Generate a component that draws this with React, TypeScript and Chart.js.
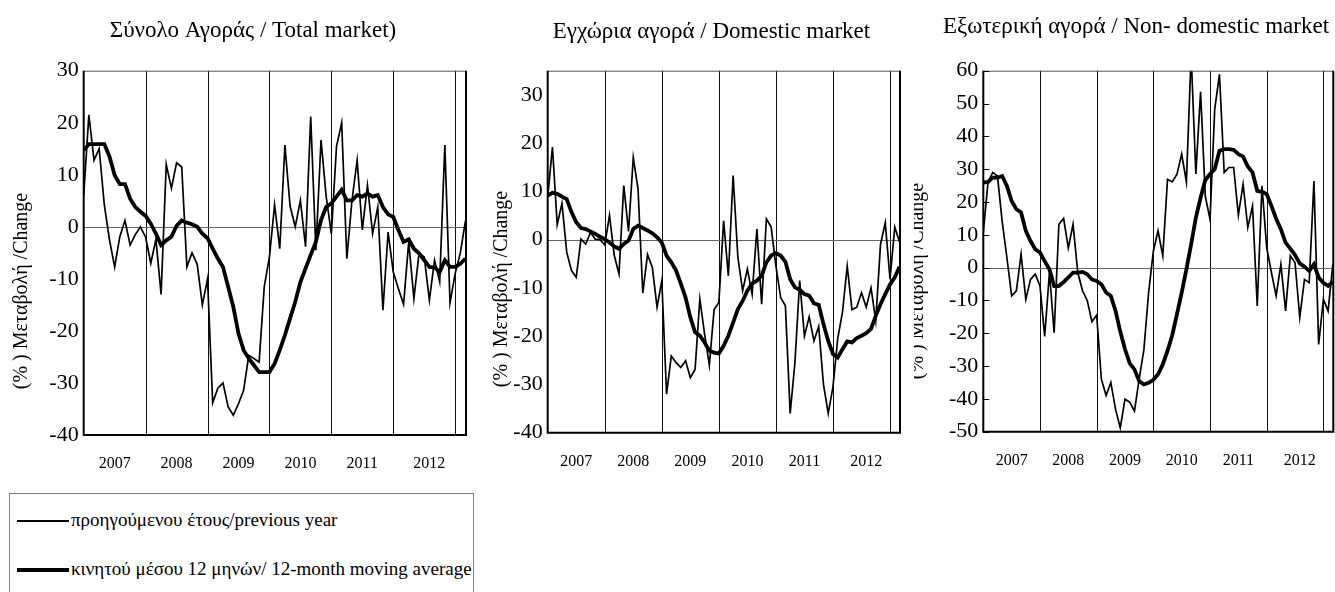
import React, { useEffect, useRef } from 'react';
import { Chart, registerables } from 'chart.js';

Chart.register(...registerables);

// ---------- data ----------
const yearLabels = ['2007', '2008', '2009', '2010', '2011', '2012'];
const yearLabelPositions = [6, 18, 30, 42, 54, 67];
const yearBoundaries = [12, 24, 36, 48, 60, 72];

const seriesLabels = [
  'προηγούμενου έτους/previous year',
  'κινητού μέσου 12 μηνών/ 12-month moving average',
];

const totalYoY = [
  6, 21.5, 12.8, 15, 4.2, -2.5, -7.7, -1.9, 1.2, -3.5, -1.5, 0,
  -2, -7, -2.4, -13, 12, 7.4, 12.3, 11.5, -7.7, -5, -7.2, -15,
  -10, -33.8, -31, -30, -34.6, -36.2, -34, -31.4, -24.7, -25.3, -26, -11.5,
  -5.8, 4.2, -4.2, 15.7, 4, 0, 5.1, -3.8, 21.2, -4.5, 16.7, 5.8,
  -1.3, 15.4, 20, -6.1, 5.1, 12.8, -0.6, 8, -1.3, 3.8, -16, -1,
  -8.7, -11.9, -14.9, -2.9, -13.8, -5.1, -5.8, -14.1, -6.4, -10.6, 15.7, -14.6,
  -9, -5, 1.2,
];
const totalMA = [
  14.7, 15.9, 15.9, 15.9, 15.9, 13.5, 9.9, 8.2, 8.2, 5.4, 3.8, 2.9,
  2.1, 0.6, -1.3, -3.5, -2.6, -1.9, 0.2, 1.2, 0.8, 0.5, 0, -1.3,
  -2.2, -4.2, -6.1, -7.7, -11.5, -15.4, -20.5, -23.7, -25.3, -26.6, -27.9, -27.9,
  -27.9, -26.3, -23.7, -20.8, -17.6, -14.4, -10.6, -8, -5.4, -2.9, 1.3, 3.8,
  4.5, 5.8, 7.1, 5.1, 5.1, 6.1, 5.8, 6.4, 5.8, 6.1, 3.8, 2.4,
  1.9, -0.6, -2.9, -2.4, -4.2, -5.1, -6.4, -7.7, -7.8, -8.7, -6.4, -7.7,
  -7.7, -7.1, -6.1,
];

const domesticYoY = [
  8.8, 19.2, 3.1, 7.5, -2.6, -6.4, -7.8, 0.1, -0.9, 1.5, 0.1, 0,
  -1.1, 5, -3.3, -7.1, 11.2, 1.7, 17, 10.5, -11.1, -3.1, -5.7, -14,
  -8.5, -32, -24.1, -25.5, -26.5, -25.1, -28.6, -26.9, -12.3, -19.6, -26, -14.5,
  -13, 3.9, -7.5, 13.3, -3.7, -10.6, -6.1, -11.3, 2.2, -13.4, 4.3, 2.6,
  -5.5, -12, -13.7, -36, -25.5, -8.5, -20, -16, -21, -18, -30, -36,
  -30.5, -20.5, -15, -5.5, -14.5, -14, -11, -14, -10, -16.8, -1, 3.5,
  -8.2, 2.6, -0.5,
];
const domesticMA = [
  9.1, 9.7, 9.5, 8.9, 8.4, 5.7, 3.6, 2.4, 2.2, 1.7, 1.2, 0.6,
  0.1, -0.6, -1.4, -1.9, -0.9, -0.2, 2.2, 2.9, 2.4, 1.9, 1.3, 0.5,
  -0.6, -3.3, -4.7, -6.4, -9.1, -12, -16.1, -19.2, -19.9, -21.3, -23, -23.4,
  -23.6, -22, -19.9, -17.2, -14.4, -12.7, -10.6, -9.1, -8.5, -7.5, -4.7, -3.3,
  -2.8, -3.3, -4.6, -8.2, -9.9, -10.4, -11.3, -11.6, -13.2, -13.5, -17.5, -21,
  -23.7, -24.4, -22.7, -21.1, -21.3, -20.4, -19.9, -19.4, -18.5, -15.8, -13.4, -11.3,
  -9.3, -7.8, -5.6,
];

const nonDomesticYoY = [
  10.7, 26, 29, 27.9, 14, 3, -8.6, -7.1, 4.1, -9.7, -3.6, -2,
  -5.6, -21, -1.5, -19.8, 13.2, 15, 6, 13.2, -1.5, -7, -10, -16.5,
  -14.5, -34, -39, -35, -43.2, -48.8, -40.1, -41, -43.7, -34, -25, -7.6,
  5, 11.2, 3.6, 26.9, 26.1, 28.5, 34.6, 26.1, 65, 28.5, 53.6, 21.8,
  14.7, 48.3, 58.9, 29, 30.5, 30.5, 16, 25.4, 12.2, 18.8, -11.7, 24.9,
  6.1, -1.5, -8.6, 1, -13.2, 3.6, 1.5, -15.2, -3.6, -4.6, 26.4, -23.4,
  -9.7, -13.2, 1,
];
const nonDomesticMA = [
  25.9, 26.1, 27.4, 27.4, 27.9, 24.9, 20.3, 17.8, 16.8, 11.2, 8.1, 5.6,
  4.6, 2, -0.5, -5.6, -5.6, -4.4, -3, -1.5, -1.5, -1.3, -2, -3.6,
  -4.1, -5.1, -7.6, -8.6, -13.2, -19.5, -24.9, -29.2, -31, -34.6, -35.6, -35.1,
  -34.2, -32.5, -29.5, -25.4, -20.6, -14.2, -7.6, -0.5, 7.1, 15.2, 21.3, 26.7,
  28.5, 30, 35.6, 36.1, 36.1, 35.9, 34.6, 33.8, 30.8, 29, 23.4, 23.1,
  22.4, 18.8, 14.9, 11.7, 7.6, 5.8, 3.8, 1.3, 0.3, -1, 1, -3,
  -4.6, -5.6, -4.4,
];

const panelTitles = [
  'Σύνολο Αγοράς / Total market)',
  'Εγχώρια αγορά / Domestic market',
  'Εξωτερική αγορά / Non- domestic market',
];
const yAxisTitle = '(% ) Μεταβολή /Change';

const FONT = '"Liberation Serif", "Times New Roman", serif';
const CANVAS_H = 480;

type Panel = {
  title: string;
  yoy: number[];
  ma: number[];
  yMin: number;
  yMax: number;
  left: number;
  width: number;
  plotL: number;
  plotR: number;
  plotT: number;
  plotB: number;
  titleX: number;
  titleY: number;
  yTitleX: number;
  yTitleY: number;
  innerTicks: boolean;
};

const panels: Panel[] = [
  {
    title: panelTitles[0], yoy: totalYoY, ma: totalMA, yMin: -40, yMax: 30,
    left: 0, width: 475, plotL: 83.7, plotR: 466, plotT: 70.7, plotB: 435,
    titleX: 253, titleY: 36.5, yTitleX: 26.7, yTitleY: 291, innerTicks: false,
  },
  {
    title: panelTitles[1], yoy: domesticYoY, ma: domesticMA, yMin: -40, yMax: 35,
    left: 475, width: 439, plotL: 547.7, plotR: 900, plotT: 70.7, plotB: 432.7,
    titleX: 711.5, titleY: 38, yTitleX: 506.7, yTitleY: 289, innerTicks: false,
  },
  {
    title: panelTitles[2], yoy: nonDomesticYoY, ma: nonDomesticMA, yMin: -50, yMax: 60,
    left: 914, width: 421, plotL: 983.3, plotR: 1333.3, plotT: 70.7, plotB: 431.7,
    titleX: 1136, titleY: 33, yTitleX: 922.7, yTitleY: 281, innerTicks: true,
  },
];

function ChartPanel({ p }: { p: Panel }) {
  const ref = useRef<HTMLCanvasElement>(null);

  useEffect(() => {
    const canvas = ref.current;
    if (!canvas) return;

    const decorations = {
      id: 'decorations',
      beforeDatasetsDraw(chart: any) {
        const { ctx, chartArea: a, scales } = chart;
        const xs = scales.x;
        const ys = scales.y;
        ctx.save();
        ctx.lineWidth = 1;
        ctx.strokeStyle = '#111';
        yearBoundaries.forEach((v) => {
          const px = Math.round(xs.getPixelForValue(v)) + 0.5;
          ctx.beginPath();
          ctx.moveTo(px, a.top);
          ctx.lineTo(px, a.bottom);
          ctx.stroke();
        });
        ctx.strokeStyle = '#666';
        const py = Math.round(ys.getPixelForValue(0)) + 0.5;
        ctx.beginPath();
        ctx.moveTo(a.left, py);
        ctx.lineTo(a.right, py);
        ctx.stroke();
        ctx.restore();
      },
      afterDraw(chart: any) {
        const { ctx, chartArea: a, scales } = chart;
        ctx.save();
        // frame
        ctx.strokeStyle = '#555';
        ctx.lineWidth = 1;
        ctx.beginPath();
        ctx.moveTo(a.left, a.top + 0.5);
        ctx.lineTo(a.right, a.top + 0.5);
        ctx.stroke();
        ctx.strokeStyle = '#000';
        ctx.lineWidth = 2;
        ctx.beginPath();
        ctx.moveTo(a.left, a.top);
        ctx.lineTo(a.left, a.bottom);
        ctx.lineTo(a.right, a.bottom);
        ctx.lineTo(a.right, a.top);
        ctx.stroke();
        if (p.innerTicks) {
          ctx.lineWidth = 1;
          scales.y.ticks.forEach((t: any) => {
            const py = Math.round(scales.y.getPixelForValue(t.value)) + 0.5;
            ctx.beginPath();
            ctx.moveTo(a.left, py);
            ctx.lineTo(a.left + 6, py);
            ctx.stroke();
          });
        }
        // panel title
        ctx.fillStyle = '#000';
        ctx.font = `23px ${FONT}`;
        ctx.textAlign = 'center';
        ctx.textBaseline = 'alphabetic';
        ctx.fillText(p.title, p.titleX - p.left, p.titleY);
        // y axis title
        ctx.font = `20px ${FONT}`;
        ctx.translate(p.yTitleX - p.left, p.yTitleY);
        ctx.rotate(-Math.PI / 2);
        ctx.fillText(yAxisTitle, 0, 0);
        ctx.restore();
      },
    };

    const chart = new Chart(canvas, {
      type: 'line',
      data: {
        datasets: [
          {
            label: seriesLabels[0],
            data: p.yoy.map((v, i) => ({ x: i, y: v })),
            borderColor: '#000',
            borderWidth: 1.7,
            pointRadius: 0,
            tension: 0,
            fill: false,
          },
          {
            label: seriesLabels[1],
            data: p.ma.map((v, i) => ({ x: i, y: v })),
            borderColor: '#000',
            borderWidth: 3.8,
            pointRadius: 0,
            tension: 0,
            fill: false,
          },
        ],
      },
      options: {
        animation: false,
        responsive: false,
        maintainAspectRatio: false,
        events: [],
        layout: {
          padding: {
            left: 0,
            top: p.plotT,
            right: p.left + p.width - p.plotR,
            bottom: 0,
          },
        },
        plugins: {
          legend: { display: false },
          tooltip: { enabled: false },
          title: { display: false },
        },
        scales: {
          x: {
            type: 'linear',
            min: 0,
            max: 74.1,
            grid: { display: false, drawTicks: false },
            border: { display: false },
            afterBuildTicks: (scale: any) => {
              scale.ticks = yearLabelPositions.map((v) => ({ value: v }));
            },
            afterFit: (scale: any) => {
              scale.height = CANVAS_H - p.plotB;
            },
            ticks: {
              autoSkip: false,
              maxRotation: 0,
              padding: 19,
              color: '#000',
              font: { family: FONT, size: 16 },
              callback: (_v: any, index: number) => yearLabels[index],
            },
          },
          y: {
            type: 'linear',
            min: p.yMin,
            max: p.yMax,
            grid: { display: false, drawTicks: false },
            border: { display: false },
            afterFit: (scale: any) => {
              scale.width = p.plotL - p.left;
            },
            ticks: {
              stepSize: 10,
              includeBounds: false,
              padding: 5,
              color: '#000',
              font: { family: FONT, size: 22 },
            },
          },
        },
      } as any,
      plugins: [decorations],
    });

    return () => chart.destroy();
  }, [p]);

  return (
    <canvas
      ref={ref}
      width={p.width}
      height={CANVAS_H}
      style={{ position: 'absolute', left: p.left, top: 0, width: p.width, height: CANVAS_H }}
    />
  );
}

export default function App() {
  const textStyle: React.CSSProperties = {
    position: 'absolute',
    left: 61,
    fontFamily: FONT,
    fontSize: 19,
    lineHeight: '20px',
    whiteSpace: 'nowrap',
    color: '#000',
  };
  return (
    <div
      style={{
        position: 'fixed',
        left: 0,
        top: 0,
        width: 1335,
        height: 592,
        overflow: 'hidden',
        background: '#fff',
      }}
    >
      {panels.map((p, i) => (
        <ChartPanel key={i} p={p} />
      ))}
      <div
        style={{
          position: 'absolute',
          left: 9,
          top: 493,
          width: 465,
          height: 130,
          border: '1px solid #808080',
          boxSizing: 'border-box',
          background: '#fff',
        }}
      >
        <div style={{ position: 'absolute', left: 7, top: 26, width: 52, height: 2, background: '#000' }} />
        <div style={{ ...textStyle, top: 16 }}>{seriesLabels[0]}</div>
        <div style={{ position: 'absolute', left: 7, top: 74, width: 52, height: 4, background: '#000' }} />
        <div style={{ ...textStyle, top: 65 }}>{seriesLabels[1]}</div>
      </div>
    </div>
  );
}
